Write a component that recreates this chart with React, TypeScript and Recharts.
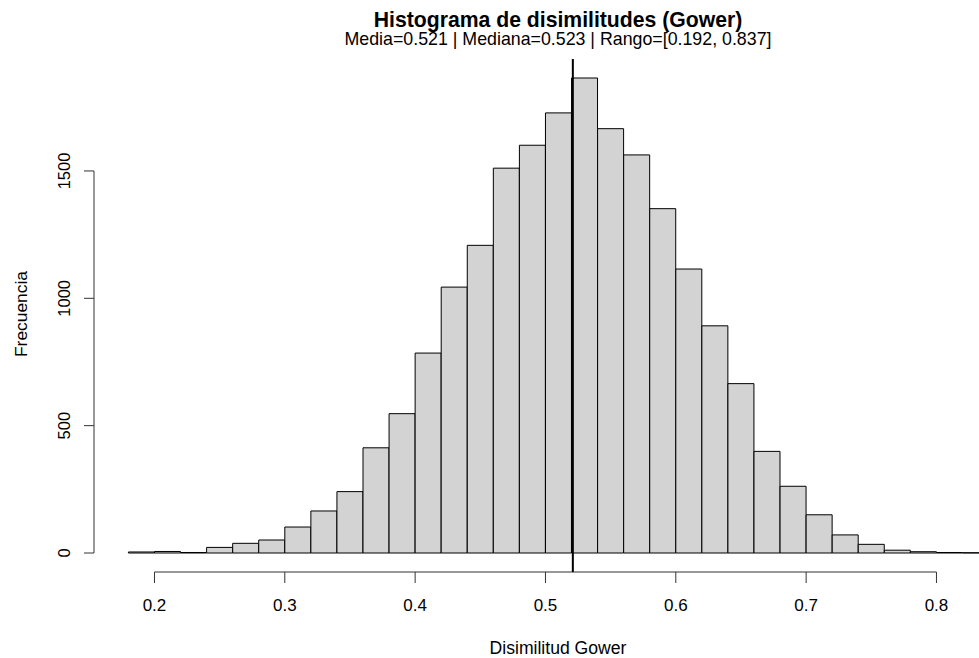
import { ComposedChart, Bar, XAxis, YAxis, ReferenceLine } from "recharts"

// histogram bins (left edges, width 0.02) and their counts
const binStarts = [
  0.18, 0.2, 0.22, 0.24, 0.26, 0.28, 0.3, 0.32, 0.34, 0.36, 0.38, 0.4, 0.42, 0.44, 0.46, 0.48, 0.5,
  0.52, 0.54, 0.56, 0.58, 0.6, 0.62, 0.64, 0.66, 0.68, 0.7, 0.72, 0.74, 0.76, 0.78, 0.8, 0.82,
]
const counts = [
  4, 6, 2, 22, 38, 51, 102, 165, 241, 413, 547, 785, 1044, 1208, 1511, 1601, 1728,
  1865, 1666, 1563, 1352, 1115, 892, 665, 399, 262, 150, 71, 34, 11, 5, 2, 1,
]
const binWidth = 0.02
const meanValue = 0.521

const xTicks = [0.2, 0.3, 0.4, 0.5, 0.6, 0.7, 0.8]
const yTicks = [0, 500, 1000, 1500]

const title = "Histograma de disimilitudes (Gower)"
const subtitle = "Media=0.521 | Mediana=0.523 | Rango=[0.192, 0.837]"

const data = binStarts.map((s, i) => ({ mid: s + binWidth / 2, count: counts[i] }))

// base-R style 4% padding around the data range
const xLo = binStarts[0]
const xHi = binStarts[binStarts.length - 1] + binWidth
const xPad = (xHi - xLo) * 0.04
const xDomain: [number, number] = [xLo - xPad, xHi + xPad]
const yMax = Math.max(...counts)
const yDomain: [number, number] = [-yMax * 0.04, yMax * 1.04]

const FONT = "'Liberation Sans', Arial, sans-serif"

function YTick({ x, y, payload }: any) {
  return (
    <text
      x={x}
      y={y}
      transform={`rotate(-90 ${x} ${y})`}
      textAnchor="middle"
      fontSize={16.5}
      fontFamily={FONT}
      fill="#000"
    >
      {payload.value}
    </text>
  )
}

export default function App() {
  return (
    <div
      style={{
        position: "absolute",
        left: 0,
        top: 0,
        width: 979,
        height: 658,
        overflow: "hidden",
        background: "#fff",
        fontFamily: FONT,
      }}
    >
      <ComposedChart
        width={1040}
        height={658}
        data={data}
        margin={{ top: 59, right: 17, bottom: 46, left: 34 }}
        barCategoryGap={0}
        barGap={0}
      >
        <XAxis
          dataKey="mid"
          type="number"
          domain={xDomain}
          ticks={xTicks}
          allowDataOverflow
          axisLine={false}
          tickLine={{ stroke: "#333" }}
          tickSize={11}
          tickMargin={16}
          height={40}
          tick={{ fontSize: 17, fill: "#000", fontFamily: FONT }}
          interval={0}
        />
        <YAxis
          type="number"
          domain={yDomain}
          ticks={yTicks}
          allowDataOverflow
          axisLine={false}
          tickLine={{ stroke: "#333" }}
          tickSize={10}
          tickMargin={14}
          width={60}
          tick={<YTick />}
          interval={0}
        />
        <Bar dataKey="count" fill="#d3d3d3" stroke="#000" strokeWidth={1} isAnimationActive={false} />
        <ReferenceLine
          segment={[
            { x: xTicks[0], y: yDomain[0] },
            { x: xTicks[xTicks.length - 1], y: yDomain[0] },
          ]}
          stroke="#333"
          strokeWidth={1}
        />
        <ReferenceLine
          segment={[
            { x: xDomain[0], y: yTicks[0] },
            { x: xDomain[0], y: yTicks[yTicks.length - 1] },
          ]}
          stroke="#333"
          strokeWidth={1}
        />
        <ReferenceLine x={meanValue} stroke="#000" strokeWidth={2} />
      </ComposedChart>
      <svg
        width={979}
        height={658}
        style={{ position: "absolute", left: 0, top: 0, pointerEvents: "none" }}
        fontFamily={FONT}
      >
        <text x={558} y={27} textAnchor="middle" fontSize={21.2} fontWeight="bold" fill="#000">
          {title}
        </text>
        <text x={558} y={45} textAnchor="middle" fontSize={17.8} fill="#000">
          {subtitle}
        </text>
        <text x={558} y={654} textAnchor="middle" fontSize={17.6} fill="#000">
          Disimilitud Gower
        </text>
        <text x={27} y={314} transform="rotate(-90 27 314)" textAnchor="middle" fontSize={17.4} fill="#000">
          Frecuencia
        </text>
      </svg>
    </div>
  )
}
